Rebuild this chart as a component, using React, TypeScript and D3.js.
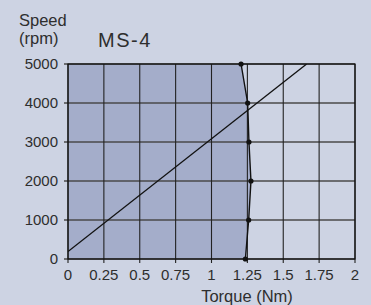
import React from 'react';
import * as d3 from 'd3';

// speed-torque curve
const speeds = [0, 1000, 2000, 3000, 4000, 5000];
const torques = [1.236, 1.259, 1.275, 1.261, 1.252, 1.206];
const xTicks = [0, 0.25, 0.5, 0.75, 1, 1.25, 1.5, 1.75, 2];
const xTickLabels = ['0', '0.25', '0.5', '0.75', '1', '1.25', '1.5', '1.75', '2'];
const yTicks = [0, 1000, 2000, 3000, 4000, 5000];
// load line endpoints (torque, speed)
const loadLine: [number, number][] = [[0, 190], [1.663, 5000]];

const W = 371;
const H = 305;
const font = 'Liberation Sans, Arial, Helvetica, sans-serif';
const ink = '#2e2e2e';

export default function App() {
  const x = d3.scaleLinear().domain([0, 2]).range([68, 355]);
  const y = d3.scaleLinear().domain([0, 5000]).range([259, 64]);

  const pts = speeds.map((s, i) => [torques[i], s] as [number, number]);

  const area = d3.area<[number, number]>()
    .y((d) => y(d[1]))
    .x0(() => x(0))
    .x1((d) => x(d[0]));

  const line = d3.line<[number, number]>()
    .x((d) => x(d[0]))
    .y((d) => y(d[1]));

  return (
    <svg width={W} height={H} style={{ position: 'absolute', left: 0, top: 0 }}>
      <defs>
        <clipPath id="plot">
          <rect x={x(0)} y={y(5000)} width={x(2) - x(0)} height={y(0) - y(5000)} />
        </clipPath>
      </defs>
      <rect width={W} height={H} fill="#cdd3e3" />
      <path d={area(pts) || ''} fill="#a4adca" />

      {/* horizontal grid */}
      {yTicks.map((t) => (
        <line key={'h' + t} x1={x(0) - 4} x2={x(2)} y1={y(t)} y2={y(t)}
          stroke="#4a4a4a" strokeWidth={1.4} />
      ))}
      {/* vertical grid */}
      {xTicks.map((t) => (
        <line key={'v' + t} x1={x(t)} x2={x(t)} y1={y(5000)} y2={y(0) + 4}
          stroke="#222" strokeWidth={1.1} />
      ))}
      <rect x={x(0)} y={y(5000)} width={x(2) - x(0)} height={y(0) - y(5000)}
        fill="none" stroke="#111" strokeWidth={1.2} />

      <path d={line(loadLine) || ''} stroke="#111" strokeWidth={1.3} fill="none" clipPath="url(#plot)" />
      <path d={line(pts) || ''} stroke="#111" strokeWidth={1.4} fill="none" />
      {pts.map((p, i) => (
        <circle key={i} cx={x(p[0])} cy={y(p[1])} r={2.6} fill="#111" />
      ))}

      {yTicks.map((t) => (
        <text key={'yl' + t} x={58} y={y(t)} dy="0.36em" textAnchor="end"
          fontFamily={font} fontSize={15} fill={ink}>{t}</text>
      ))}
      {xTicks.map((t, i) => (
        <text key={'xl' + t} x={x(t)} y={280} textAnchor="middle"
          fontFamily={font} fontSize={15} fill={ink}>{xTickLabels[i]}</text>
      ))}

      <text x={19} y={26} fontFamily={font} fontSize={16.5} fill={ink}>Speed</text>
      <text x={19} y={44} fontFamily={font} fontSize={16.5} fill={ink}>(rpm)</text>
      <text x={98} y={47} fontFamily={font} fontSize={20} letterSpacing={1.5} fill={ink}>MS-4</text>
      <text x={247} y={302} textAnchor="middle" fontFamily={font} fontSize={16.5} fill={ink}>Torque (Nm)</text>
    </svg>
  );
}
